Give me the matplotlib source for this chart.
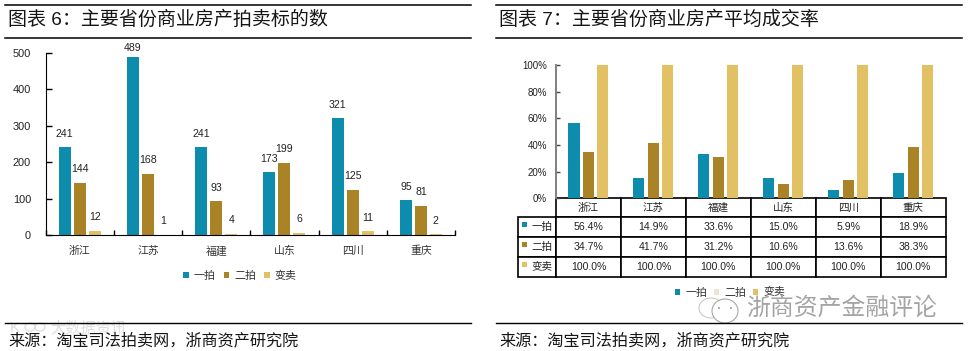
import numpy as np
import matplotlib
matplotlib.use("Agg")
import matplotlib.pyplot as plt
from matplotlib.patches import Ellipse, Rectangle

plt.rcParams['font.family'] = ['Liberation Sans', 'Noto Sans CJK SC', 'DejaVu Sans']

W, H = 968, 351

provinces = ['浙江', '江苏', '福建', '山东', '四川', '重庆']
series_names = ['一拍', '二拍', '变卖']
colors = ['#0E8CAD', '#A98325', '#E2C064']

# 图表6 counts
count_first = [241, 489, 241, 173, 321, 95]
count_second = [144, 168, 93, 199, 125, 81]
count_sale = [12, 1, 4, 6, 11, 2]
count_ticks = [0, 100, 200, 300, 400, 500]

# 图表7 rates
rate_first = [56.4, 14.9, 33.6, 15.0, 5.9, 18.9]
rate_second = [34.7, 41.7, 31.2, 10.6, 13.6, 38.3]
rate_sale = [100.0, 100.0, 100.0, 100.0, 100.0, 100.0]
rate_ticks = [0, 20, 40, 60, 80, 100]

title_left = '图表 6\uff1a主要省份商业房产拍卖标的数'
title_right = '图表 7\uff1a主要省份商业房产平均成交率'
source = '来源\uff1a淘宝司法拍卖网\uff0c浙商资产研究院'
watermark = '浙商资产金融评论'
watermark_left = '大数据资讯'


def axes_px(fig, x0, y0, x1, y1):
    # pixel box (top-left origin) to figure axes
    return fig.add_axes([x0 / W, 1 - y1 / H, (x1 - x0) / W, (y1 - y0) / H])


def fx(x):
    return x / W


def fy(y):
    return 1 - y / H


fig = plt.figure(figsize=(W / 100, H / 100), dpi=100)

# rules, titles and source lines
for x0, x1, title, tx in [(5, 471, title_left, 8), (496, 962, title_right, 499)]:
    for y, lw in [(4.7, 1.1), (38.3, 1.1), (323, 1.0)]:
        fig.add_artist(plt.Line2D([fx(x0), fx(x1)], [fy(y), fy(y)], color='black', lw=lw))
    fig.text(fx(tx), fy(20), title, fontsize=13.7, va='center', ha='left', color='#151515', weight='medium')
    fig.text(fx(tx), fy(340), source, fontsize=11.6, va='center', ha='left', color='#151515')

# left chart
ax = axes_px(fig, 45.7, 53, 455, 235)
x = np.arange(len(provinces))
for i, vals in enumerate([count_first, count_second, count_sale]):
    bars = ax.bar(x + (i - 1) * 0.22, vals, width=0.176, color=colors[i], label=series_names[i])
    for b, v in zip(bars, vals):
        off = 6.5 if v > 480 else 9.7
        ax.annotate(str(v), (b.get_x() + b.get_width() / 2, v), xytext=(0, off),
                    textcoords='offset points', ha='center', va='center',
                    fontsize=7.6, color='#222222', annotation_clip=False)
ax.set_xlim(-0.5, 5.5)
ax.set_ylim(0, 500)
ax.set_yticks(count_ticks)
ax.set_xticks(x, provinces)
ax.set_xticks(np.arange(-0.5, 6), minor=True)
ax.tick_params(axis='y', direction='in', length=4, width=1, labelsize=7.9, pad=10.5, labelcolor='#222222')
ax.tick_params(axis='x', which='major', length=0, labelsize=7.8, pad=8, labelcolor='#333333')
ax.tick_params(axis='x', which='minor', direction='in', length=3.5, width=1)
for s in ['top', 'right']:
    ax.spines[s].set_visible(False)
ax.legend(loc='center', bbox_to_anchor=((240 - 45.7) / 409.3, -0.2245), ncol=3, frameon=False,
          fontsize=7.9, handlelength=0.5, handleheight=0.5, handletextpad=0.45, columnspacing=0.75,
          labelcolor='#333333')

# right chart
ax2 = axes_px(fig, 556, 65, 945.7, 198.3)
for i, vals in enumerate([rate_first, rate_second, rate_sale]):
    ax2.bar(x + (i - 1) * 0.223, vals, width=0.17, color=colors[i], label=series_names[i])
ax2.set_xlim(-0.5, 5.5)
ax2.set_ylim(0, 100)
ax2.set_yticks(rate_ticks, [f'{t}%' for t in rate_ticks])
ax2.set_xticks([])
ax2.tick_params(axis='y', direction='in', length=3, width=1, color='#444444',
                labelsize=7, pad=6.5, labelcolor='#222222')
for s in ['top', 'right']:
    ax2.spines[s].set_visible(False)
ax2.spines['left'].set_color('#808080')
ax2.spines['left'].set_linewidth(1.4)
ax2.spines['bottom'].set_visible(False)

# data table under the right chart
rows = [[''] + provinces]
for name, vals in zip(series_names, [rate_first, rate_second, rate_sale]):
    rows.append([name] + [f'{v:.1f}%' for v in vals])
plot_w, plot_h = 389.7, 133.3
tbl_left = (517.7 - 556) / plot_w
tbl_h = (276.7 - 198.3) / plot_h
col_w = [38.3] + [65.0] * 6
table = ax2.table(cellText=rows, colWidths=col_w, cellLoc='center',
                  bbox=[tbl_left, -tbl_h, 1 - tbl_left, tbl_h])
table.auto_set_font_size(False)
for (r, c), cell in table.get_celld().items():
    cell.set_linewidth(1.2)
    cell.set_edgecolor('black')
    cell.set_height(18.4 if r == 0 else 20.0)
    cell.get_text().set_fontsize(7.6)
    cell.get_text().set_color('#222222')
    if c == 0:
        cell.get_text().set_ha('right')
    if r == 0 and c == 0:
        cell.visible_edges = ''
for i in range(3):
    y = 226.7 + i * 20 - 2
    fig.add_artist(Rectangle((fx(522), fy(y + 2.5)), 5 / W, 5 / H, color=colors[i], lw=0))

ax2.legend(loc='center', bbox_to_anchor=((730 - 556) / plot_w, (198.3 - 292.5) / plot_h), ncol=3, frameon=False,
           fontsize=7.9, handlelength=0.5, handleheight=0.5, handletextpad=0.45, columnspacing=0.6,
           labelcolor='#333333')

# watermarks
fig.add_artist(Rectangle((fx(714), fy(297)), 10 / W, 10 / H, color='white', alpha=0.8, lw=0))
fig.text(fx(746), fy(308), watermark, fontsize=17.2, va='center', ha='left', color='#A4A4A4', zorder=10)
fig.add_artist(Ellipse((fx(711), fy(308)), 24 / W, 20 / H, fill=False, ec='#C4C4C4', lw=0.7))
fig.add_artist(Ellipse((fx(725), fy(311)), 26 / W, 24 / H, fc='white', ec='#A8A8A8', lw=0.8))
for ex in [719, 731]:
    fig.add_artist(Ellipse((fx(ex), fy(308)), 2 / W, 2 / H, color='#999999', lw=0))
fig.text(fx(10), fy(328.5), 'K', fontsize=10.5, va='center', ha='left', color='#DEDEDE', zorder=0)
for ex in [30, 40]:
    fig.add_artist(Ellipse((fx(ex), fy(327)), 10 / W, 8 / H, fill=False, ec='#DEDEDE', lw=0.9, zorder=0))
fig.text(fx(50), fy(328.5), watermark_left, fontsize=11, va='center', ha='left', color='#DEDEDE', zorder=0)

fig.savefig('out.png', dpi=100)
